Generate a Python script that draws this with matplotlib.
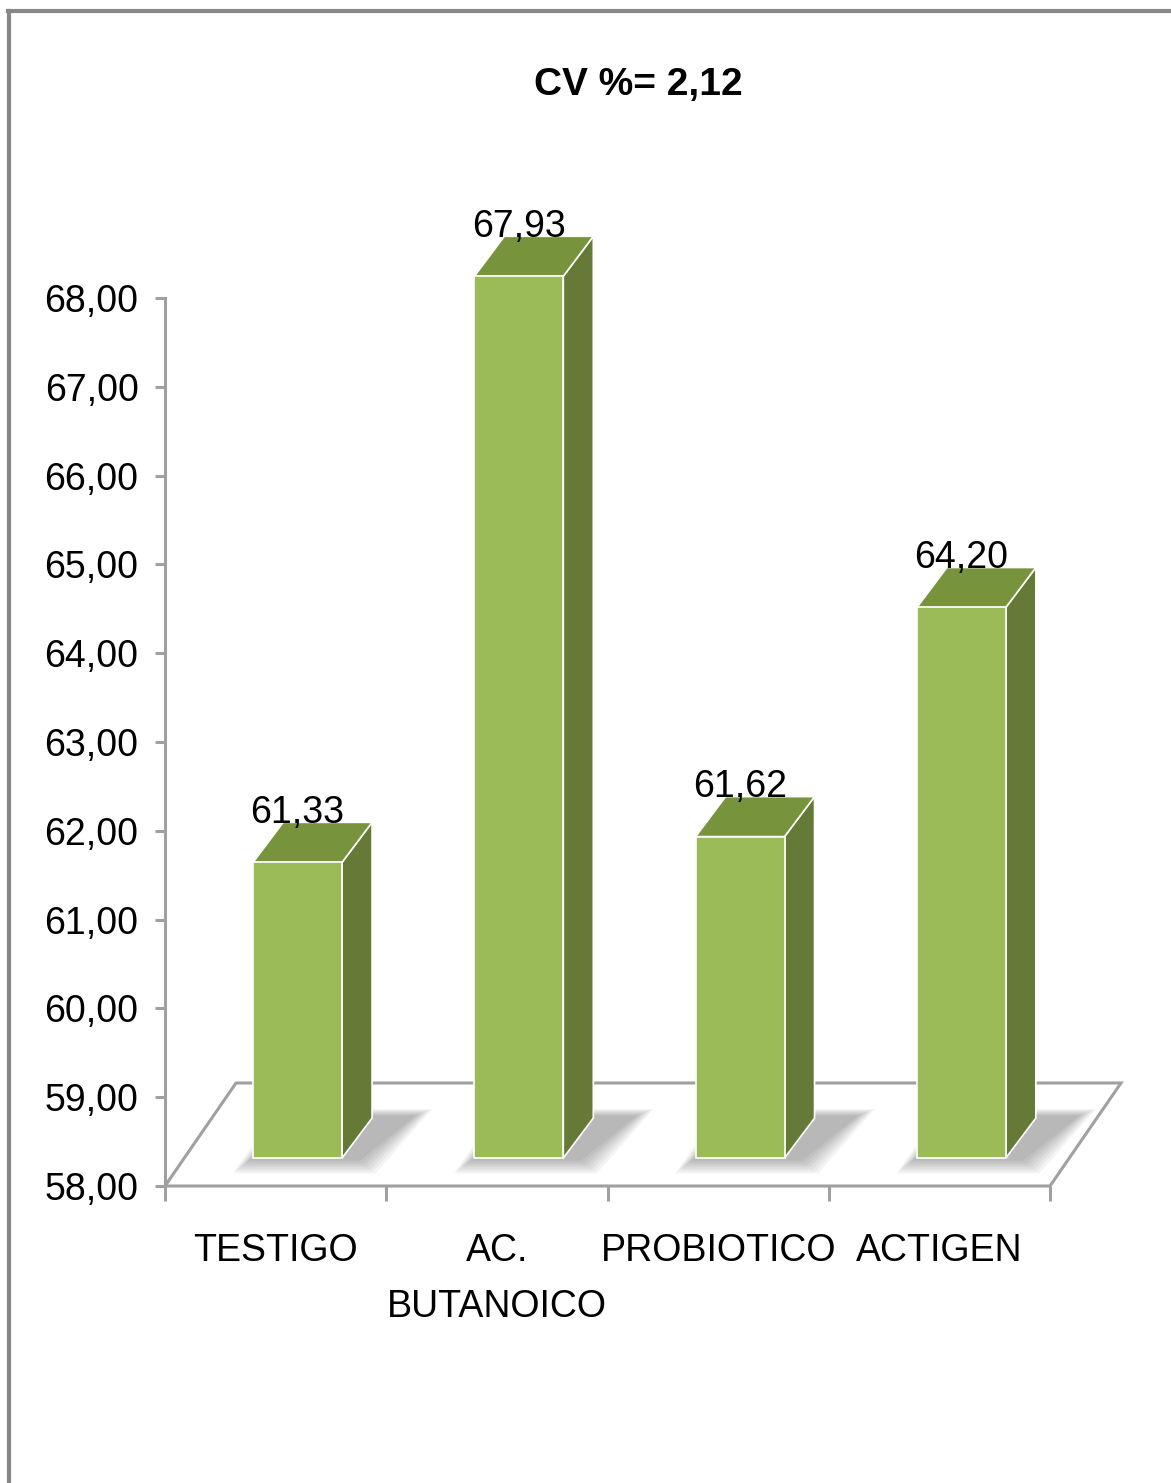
"""3D-style Excel bar chart: CV %= 2,12 (matplotlib, no display)."""
import numpy as np
import matplotlib
matplotlib.use("Agg")
import matplotlib.pyplot as plt
from matplotlib.patches import Polygon
from matplotlib.lines import Line2D

categories = ["TESTIGO", "AC.\nBUTANOICO", "PROBIOTICO", "ACTIGEN"]
values = [61.33, 67.93, 61.62, 64.20]
value_labels = ["61,33", "67,93", "61,62", "64,20"]
yticks = np.arange(58, 69, 1)
ytick_labels = [f"{t:.2f}".replace(".", ",") for t in yticks]
title = "CV %= 2,12"

plt.rcParams["font.family"] = ["Liberation Sans", "DejaVu Sans"]
FS = 27

W, H = 1171, 1483
fig = plt.figure(figsize=(W / 100, H / 100), dpi=100)
ymin, ymax = 58, 68.8
ax = fig.add_axes([165 / W, (H - 1186) / H, 885 / W, (ymax - ymin) * 88.8 / H])
ax.set_xlim(0, 4)
ax.set_ylim(ymin, ymax)

# pseudo-3D geometry (data units)
front_dx, front_dy = 0.1017, 0.315   # bar front pushed into the floor
bar_w = 0.402
dep_dx, dep_dy = 0.1356, 0.45        # bar depth
fl_dx, fl_dy = 0.321, 1.16           # floor depth

c_front, c_top, c_side = "#9bbb59", "#77933c", "#647a36"
grid_c = "#a0a0a0"

# floor
floor = [(0, ymin), (4, ymin), (4 + fl_dx, ymin + fl_dy), (fl_dx, ymin + fl_dy)]
ax.add_patch(Polygon(floor, closed=True, facecolor="white", edgecolor=grid_c,
                     lw=2.2, zorder=1, clip_on=False))

for i, v in enumerate(values):
    x0 = i + 0.5 - front_dx
    x1 = x0 + bar_w
    yb = ymin + front_dy
    yt = v + front_dy
    # soft shadow on floor
    for k in range(7):
        g = 0.012 * k
        sh = [(x0 - 0.02 - g, yb - 0.03 - g * 2), (x1 + 0.08 + g, yb - 0.03 - g * 2),
              (x1 + dep_dx + 0.2 + g, yb + dep_dy + 0.03 + g), (x0 + dep_dx + 0.05 - g, yb + dep_dy + 0.03 + g)]
        ax.add_patch(Polygon(sh, closed=True, facecolor="black", edgecolor="none",
                             alpha=0.045, zorder=2, clip_on=False))
    front = [(x0, yb), (x1, yb), (x1, yt), (x0, yt)]
    side = [(x1, yb), (x1 + dep_dx, yb + dep_dy), (x1 + dep_dx, yt + dep_dy), (x1, yt)]
    top = [(x0, yt), (x1, yt), (x1 + dep_dx, yt + dep_dy), (x0 + dep_dx, yt + dep_dy)]
    for poly, col in [(side, c_side), (top, c_top), (front, c_front)]:
        ax.add_patch(Polygon(poly, closed=True, facecolor=col, edgecolor="white",
                             lw=1.2, zorder=3, clip_on=False))
    ax.text(x0 + bar_w / 2, v + front_dy + dep_dy + 0.11, value_labels[i],
            ha="center", va="center", fontsize=FS, zorder=4, clip_on=False)

# axes styling
for s in ["top", "right", "bottom"]:
    ax.spines[s].set_visible(False)
ax.spines["left"].set_bounds(58, 68)
ax.spines["left"].set_color(grid_c)
ax.spines["left"].set_linewidth(2.2)
ax.set_yticks(yticks, ytick_labels)
ax.tick_params(axis="y", direction="out", length=7, width=2.2, color=grid_c,
               labelsize=FS, pad=12)
ax.set_xticks(np.arange(0, 5, 1), [""] * 5)
ax.tick_params(axis="x", which="major", direction="out", length=11, width=2.2,
               color=grid_c)
ax.set_xticks(np.arange(4) + 0.5, categories, minor=True)
ax.tick_params(axis="x", which="minor", length=0, labelsize=FS, pad=34)
for lab in ax.get_xticklabels(minor=True):
    lab.set_verticalalignment("top")
    lab.set_linespacing(1.7)
ax.set_facecolor("none")

fig.text(638 / W, 1 - 85 / H, title, ha="center", va="center",
         fontsize=28, fontweight="bold")

# chart frame
fig.add_artist(Line2D([8 / W, 1], [1 - 11 / H] * 2, color="#878787", lw=3,
                      transform=fig.transFigure))
fig.add_artist(Line2D([9 / W] * 2, [0, 1 - 11 / H], color="#878787", lw=3,
                      transform=fig.transFigure))

fig.savefig("out.png", dpi=100)
